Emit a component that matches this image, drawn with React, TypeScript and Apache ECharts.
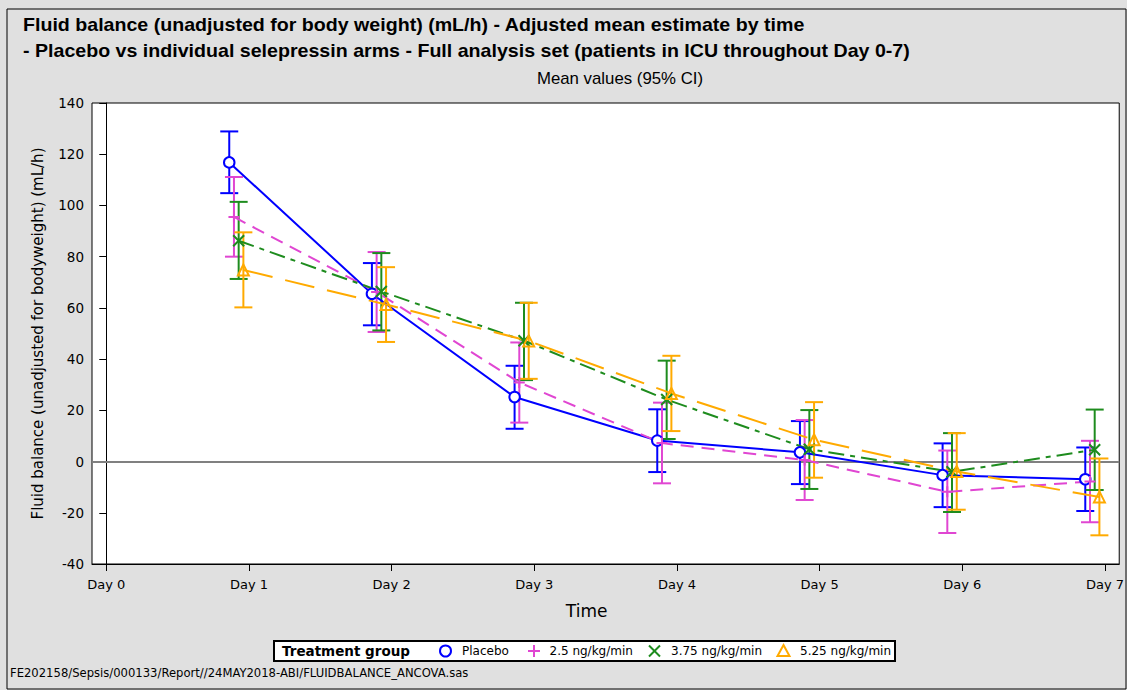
import React, { useEffect, useRef } from "react";
import * as echarts from "echarts";

const days = [1, 2, 3, 4, 5, 6, 7];
const tickDays = [0, 1, 2, 3, 4, 5, 6, 7];
const groupNames = ["Placebo", "2.5 ng/kg/min", "3.75 ng/kg/min", "5.25 ng/kg/min"];
const groupOffsets = [-0.138, -0.105, -0.072, -0.039];
const groupColors = ["#0000FF", "#E046D2", "#1E8C1E", "#FFAA00"];

const placeboMean = [116.8, 65.5, 25.2, 8.2, 3.6, -5.3, -6.9];
const placeboLow = [104.8, 53.2, 12.8, -4.1, -8.8, -17.8, -19.3];
const placeboHigh = [128.9, 77.5, 37.4, 20.4, 15.8, 7.1, 5.5];

const dose25Mean = [95.5, 66.2, 30.9, 7.2, 0.6, -11.8, -7.8];
const dose25Low = [80.0, 50.6, 15.2, -8.5, -15.0, -27.9, -23.7];
const dose25High = [111.1, 81.8, 46.5, 23.0, 16.2, 4.3, 8.1];

const dose375Mean = [86.2, 66.4, 47.2, 24.2, 4.8, -4.0, 4.6];
const dose375Low = [71.3, 51.2, 31.8, 8.8, -10.7, -19.7, -11.1];
const dose375High = [101.4, 81.4, 62.0, 39.4, 20.1, 11.1, 20.3];

const dose525Mean = [74.8, 61.3, 47.1, 26.6, 8.5, -3.9, -13.8];
const dose525Low = [60.2, 46.7, 32.3, 11.9, -6.3, -18.8, -28.8];
const dose525High = [89.5, 75.9, 62.0, 41.3, 23.2, 11.1, 1.2];

const means = [placeboMean, dose25Mean, dose375Mean, dose525Mean];
const lows = [placeboLow, dose25Low, dose375Low, dose525Low];
const highs = [placeboHigh, dose25High, dose375High, dose525High];

const titleLine1 = "Fluid balance (unadjusted for body weight) (mL/h) - Adjusted mean estimate by time";
const titleLine2 = "- Placebo vs individual selepressin arms - Full analysis set (patients in ICU throughout Day 0-7)";
const subtitle = "Mean values (95% CI)";
const footnote = "FE202158/Sepsis/000133/Report//24MAY2018-ABI/FLUIDBALANCE_ANCOVA.sas";

const symbols = [
  "emptyCircle",
  "path://M5,0L5,10M0,5L10,5",
  "path://M0,0L10,10M10,0L0,10",
  "path://M5,0L10,9L0,9Z",
];
const dashes: any[] = ["solid", [13, 8], [16, 6, 5, 6], [30, 13]];

const FONT = "DejaVu Sans";

export default function App() {
  const ref = useRef<HTMLDivElement>(null);
  useEffect(() => {
    if (!ref.current) return;
    const chart = echarts.init(ref.current, null, { renderer: "svg" });
    const series: any[] = [];
    groupNames.forEach((name, g) => {
      const color = groupColors[g];
      series.push({
        type: "custom",
        name: name + " CI",
        z: 2,
        encode: { x: 0, y: [1, 2] },
        data: days.map((d, i) => [d + groupOffsets[g], lows[g][i], highs[g][i]]),
        renderItem: (params: any, api: any) => {
          const x = api.value(0);
          const p1 = api.coord([x, api.value(1)]);
          const p2 = api.coord([x, api.value(2)]);
          const st = { stroke: color, lineWidth: 2 };
          return {
            type: "group",
            children: [
              { type: "line", shape: { x1: p1[0], y1: p1[1], x2: p2[0], y2: p2[1] }, style: st },
              { type: "line", shape: { x1: p1[0] - 9, y1: p1[1], x2: p1[0] + 9, y2: p1[1] }, style: st },
              { type: "line", shape: { x1: p2[0] - 9, y1: p2[1], x2: p2[0] + 9, y2: p2[1] }, style: st },
            ],
          };
        },
      });
      const s: any = {
        type: "line",
        name,
        z: 3,
        data: days.map((d, i) => [d + groupOffsets[g], means[g][i]]),
        symbol: symbols[g],
        symbolSize: g === 0 ? 10.5 : 11,
        showAllSymbol: true,
        lineStyle: { color, width: 2, type: dashes[g] },
        itemStyle: g === 0 ? { color, borderColor: color, borderWidth: 2 } : { color: "none", borderColor: color, borderWidth: 2 },
      };
      if (g === 0) {
        s.markLine = {
          silent: true,
          symbol: ["none", "none"],
          label: { show: false },
          lineStyle: { color: "#808080", width: 2, type: "solid" },
          data: [{ yAxis: 0 }],
          z: 1,
        };
      }
      series.push(s);
    });

    const lx = 274, ly = 641;
    const legendItems: any[] = [
      { type: "rect", shape: { x: lx, y: ly, width: 621, height: 20 }, style: { fill: "#ffffff", stroke: "#000", lineWidth: 2 } },
      { type: "text", x: 282, y: ly + 10, style: { text: "Treatment group", font: `bold 13.5px "${FONT}"`, fill: "#000", verticalAlign: "middle" } },
      { type: "circle", shape: { cx: 445.5, cy: ly + 10, r: 5.5 }, style: { fill: "none", stroke: groupColors[0], lineWidth: 2 } },
      { type: "text", x: 462, y: ly + 10, style: { text: groupNames[0], font: `12px "${FONT}"`, fill: "#000", verticalAlign: "middle" } },
      { type: "line", shape: { x1: 528, y1: ly + 10, x2: 540, y2: ly + 10 }, style: { stroke: groupColors[1], lineWidth: 2 } },
      { type: "line", shape: { x1: 534, y1: ly + 4, x2: 534, y2: ly + 16 }, style: { stroke: groupColors[1], lineWidth: 2 } },
      { type: "text", x: 549.5, y: ly + 10, style: { text: groupNames[1], font: `12px "${FONT}"`, fill: "#000", verticalAlign: "middle" } },
      { type: "line", shape: { x1: 649, y1: ly + 4.5, x2: 660, y2: ly + 15.5 }, style: { stroke: groupColors[2], lineWidth: 2 } },
      { type: "line", shape: { x1: 660, y1: ly + 4.5, x2: 649, y2: ly + 15.5 }, style: { stroke: groupColors[2], lineWidth: 2 } },
      { type: "text", x: 671, y: ly + 10, style: { text: groupNames[2], font: `12px "${FONT}"`, fill: "#000", verticalAlign: "middle" } },
      { type: "polygon", shape: { points: [[783.5, ly + 4], [789.5, ly + 15], [777.5, ly + 15]] }, style: { fill: "none", stroke: groupColors[3], lineWidth: 2 } },
      { type: "text", x: 800, y: ly + 10, style: { text: groupNames[3], font: `12px "${FONT}"`, fill: "#000", verticalAlign: "middle" } },
    ];

    chart.setOption({
      animation: false,
      backgroundColor: "#E0E0E0",
      grid: {
        left: 92,
        top: 103,
        right: 7,
        bottom: 126,
        show: true,
        backgroundColor: "#FFFFFF",
        borderColor: "#000",
        borderWidth: 1,
      },
      xAxis: {
        type: "value",
        min: -0.1,
        max: 7.1,
        name: "Time",
        nameLocation: "middle",
        nameGap: 38,
        nameTextStyle: { fontFamily: FONT, fontSize: 17, color: "#000", padding: [0, 38, 0, 0] },
        axisLine: { show: true, onZero: false, lineStyle: { color: "#000", width: 1 } },
        axisTick: { show: true, customValues: tickDays, length: 7, lineStyle: { color: "#000" } },
        axisLabel: {
          customValues: tickDays,
          formatter: (v: number) => "Day " + v,
          fontFamily: FONT,
          fontSize: 13,
          color: "#000",
          margin: 14,
        },
        splitLine: { show: false },
      },
      yAxis: {
        type: "value",
        min: -40,
        max: 140,
        interval: 20,
        name: "Fluid balance (unadjusted for bodyweight) (mL/h)",
        nameLocation: "middle",
        nameGap: 47,
        nameTextStyle: { fontFamily: FONT, fontSize: 15, color: "#000" },
        axisLine: { show: true, lineStyle: { color: "#000", width: 1 } },
        axisTick: { show: true, length: 7, lineStyle: { color: "#000" } },
        axisLabel: { fontFamily: FONT, fontSize: 13.5, color: "#000", margin: 8 },
        splitLine: { show: false },
      },
      graphic: [
        { type: "rect", shape: { x: 7, y: 9, width: 1119, height: 680 }, style: { fill: "none", stroke: "#000", lineWidth: 1 }, silent: true },
        { type: "text", x: 23, y: 25, scaleX: 1.09, style: { text: titleLine1, font: `bold 18px "Liberation Sans"`, fill: "#000", verticalAlign: "middle" } },
        { type: "text", x: 23, y: 51, scaleX: 1.09, style: { text: titleLine2, font: `bold 18px "Liberation Sans"`, fill: "#000", verticalAlign: "middle" } },
        { type: "text", x: 620, y: 78, scaleX: 1.05, style: { text: subtitle, font: `16px "Liberation Sans"`, fill: "#000", align: "center", verticalAlign: "middle" } },
        ...legendItems,
        { type: "text", x: 10, y: 673, style: { text: footnote, font: `11.6px "${FONT}"`, fill: "#000", verticalAlign: "middle" } },
      ],
      series,
    });
    return () => chart.dispose();
  }, []);
  return <div ref={ref} style={{ position: "fixed", left: 0, top: 0, width: 1127, height: 690 }} />;
}
